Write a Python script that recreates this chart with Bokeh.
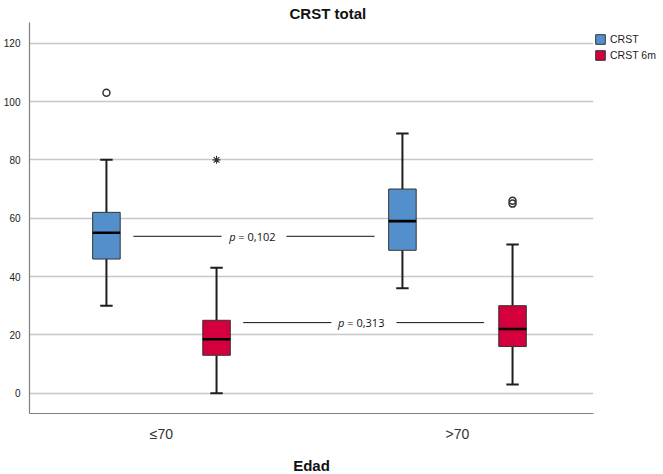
from bokeh.plotting import figure
from bokeh.models import Range1d, FixedTicker, Legend, LegendItem, ColumnDataSource
from bokeh.core.properties import value
from bokeh.embed import file_html
from bokeh.resources import INLINE

# ---- data ----
groups = ["≤70", ">70"]
series = ["CRST", "CRST 6m"]
colors = ["#5390CB", "#D4003D"]

# per series, per group: lower whisker, Q1, median, Q3, upper whisker
crst_low = [30, 36]
crst_q1 = [46, 49]
crst_med = [55, 59]
crst_q3 = [62, 70]
crst_high = [80, 89]

crst6_low = [0, 3]
crst6_q1 = [13, 16]
crst6_med = [18.5, 22]
crst6_q3 = [25, 30]
crst6_high = [43, 51]

# outliers (circles) and extremes (stars)
crst_out_x = [1]
crst_out_y = [103]
crst6_out_x = [2, 2]
crst6_out_y = [65, 66]
crst6_ext_x = [1]
crst6_ext_y = [80]

# p-value annotations between groups
p_texts = ["\u00a0= 0,102", "\u00a0= 0,313"]
p_y = [53.8, 24.2]

y_ticks = [0, 20, 40, 60, 80, 100, 120]

# ---- layout ----
OFF = 0.186   # half spacing between series inside a group
BW = 0.093    # box width
CAP = 0.042   # whisker cap width

p = figure(output_backend="svg", toolbar_location=None,
           frame_width=564, frame_height=391,
           min_border_left=20, min_border_right=71, min_border_top=22, min_border_bottom=53,
           x_range=Range1d(0.5541, 2.4595), y_range=Range1d(-6.96, 127.1))
p.background_fill_color = "white"
p.border_fill_color = "white"
p.outline_line_color = None

p.title.text = "CRST total"
p.title.align = "left"
p.title.offset = 260
p.title.standoff = 2
p.title.text_font = "Liberation Sans"
p.title.text_font_size = "15px"
p.title.text_font_style = "bold"
p.title.text_color = "#111111"

p.xgrid.visible = False
p.ygrid.grid_line_color = "#C8C8C8"
p.ygrid.grid_line_width = 1.6

p.yaxis.ticker = FixedTicker(ticks=y_ticks)
p.yaxis.major_tick_line_color = None
p.yaxis.minor_tick_line_color = None
p.yaxis.major_label_standoff = 3
p.yaxis.major_label_text_font = "Liberation Sans"
p.yaxis.major_label_text_font_size = "10px"
p.yaxis.major_label_text_color = "#222222"
p.yaxis.axis_line_color = "#808080"
p.yaxis.axis_line_width = 1.2

p.xaxis.ticker = FixedTicker(ticks=[1, 2])
p.xaxis.major_label_overrides = {1: groups[0], 2: groups[1]}
p.xaxis.major_tick_line_color = None
p.xaxis.minor_tick_line_color = None
p.xaxis.major_label_standoff = 6
p.xaxis.major_label_text_font = "Liberation Sans"
p.xaxis.major_label_text_font_size = "14px"
p.xaxis.major_label_text_color = "#333333"
p.xaxis.axis_line_color = "#808080"
p.xaxis.axis_line_width = 1.2
p.xaxis.axis_label = "Edad"
p.xaxis.axis_label_text_font = "Liberation Sans"
p.xaxis.axis_label_text_font_size = "15px"
p.xaxis.axis_label_text_font_style = "bold"
p.xaxis.axis_label_text_color = "#111111"
p.xaxis.axis_label_standoff = 12

legend_items = []
all_stats = [
    (crst_low, crst_q1, crst_med, crst_q3, crst_high),
    (crst6_low, crst6_q1, crst6_med, crst6_q3, crst6_high),
]
for si, (lo, q1, med, q3, hi) in enumerate(all_stats):
    sign = -1 if si == 0 else 1
    xs = [g + 1 + sign * OFF for g in range(len(groups))]
    src = ColumnDataSource(dict(
        x=xs, lo=lo, q1=q1, med=med, q3=q3, hi=hi,
        xl=[x - BW / 2 for x in xs], xr=[x + BW / 2 for x in xs],
        cl=[x - CAP / 2 for x in xs], cr=[x + CAP / 2 for x in xs],
    ))
    # whiskers
    p.segment(x0="x", y0="q3", x1="x", y1="hi", source=src, line_color="#1E1E1E", line_width=2)
    p.segment(x0="x", y0="lo", x1="x", y1="q1", source=src, line_color="#1E1E1E", line_width=2)
    p.segment(x0="cl", y0="hi", x1="cr", y1="hi", source=src, line_color="#1E1E1E", line_width=2)
    p.segment(x0="cl", y0="lo", x1="cr", y1="lo", source=src, line_color="#1E1E1E", line_width=2)
    # box
    r = p.vbar(x="x", width=BW, bottom="q1", top="q3", source=src,
               fill_color=colors[si], line_color="#333333", line_width=1)
    # median
    p.segment(x0="xl", y0="med", x1="xr", y1="med", source=src, line_color="#000000", line_width=2.6)
    legend_items.append(LegendItem(label=series[si], renderers=[r]))

# outliers
p.scatter([x - OFF for x in crst_out_x], crst_out_y, marker="circle", size=7,
          fill_color=None, line_color="#333333", line_width=1.5)
p.scatter([x + OFF for x in crst6_out_x], crst6_out_y, marker="circle", size=7,
          fill_color=None, line_color="#333333", line_width=1.5)
p.scatter([x + OFF for x in crst6_ext_x], crst6_ext_y, marker="asterisk", size=8,
          line_color="#333333", line_width=1.1)

# p-value annotations
p_line_x = [[(0.905, 1.203), (1.422, 1.720)], [(1.276, 1.574), (1.794, 2.090)]]
p_text_x = [1.250, 1.618]
for k in range(2):
    for (a, b) in p_line_x[k]:
        p.segment(x0=[a], y0=[p_y[k]], x1=[b], y1=[p_y[k]], line_color="#111111", line_width=1)
    p.text(x=[p_text_x[k]], y=[p_y[k]], text=["p"], text_align="right", text_baseline="middle",
           text_font=value("Open Sans"), text_font_style="italic", text_font_size="11px",
           text_color="#111111")
    p.text(x=[p_text_x[k]], y=[p_y[k]], text=[p_texts[k]], text_align="left", text_baseline="middle",
           text_font=value("Open Sans"), text_font_size="11px", text_color="#111111")

legend = Legend(items=legend_items, location=(1, 352), orientation="vertical",
                margin=0, padding=0, spacing=4, glyph_width=12, glyph_height=12,
                label_height=12, label_standoff=4, label_text_font="Liberation Sans",
                label_text_font_size="10.5px", label_text_color="#222222",
                border_line_color=None, background_fill_alpha=0)
p.add_layout(legend, "right")

open("out.html", "w").write(file_html(p, INLINE))
